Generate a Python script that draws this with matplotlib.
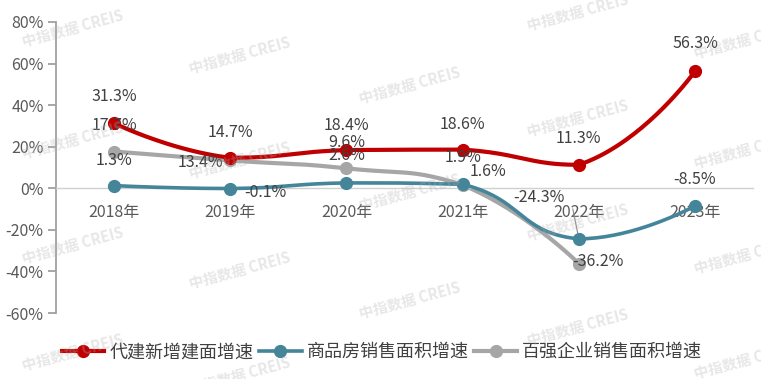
import numpy as np
import matplotlib
matplotlib.use('Agg')
import matplotlib.pyplot as plt

plt.rcParams['font.family'] = ['Noto Sans CJK SC', 'DejaVu Sans']
plt.rcParams['axes.unicode_minus'] = False

years = ['2018年', '2019年', '2020年', '2021年', '2022年', '2023年']
daijian = [31.3, 14.7, 18.4, 18.6, 11.3, 56.3]
shangpin = [1.3, -0.1, 2.6, 1.9, -24.3, -8.5]
baiqiang = [17.7, 13.4, 9.6, 1.6, -36.2]
names = ['代建新增建面增速', '商品房销售面积增速', '百强企业销售面积增速']
colors = ['#C00000', '#44859A', '#A6A6A6']

# label offsets in pixels (dx, dy)
offs_red = [(0, 27), (0, 25), (0, 25), (0, 25), (0, 26), (0, 28)]
offs_teal = [(0, 25), (35, -4), (0, 27), (0, 27), (-40, 41), (0, 26)]
offs_gray = [(0, 26), (-30, -2), (0, 26), (25, 13), (19, 2)]

fig = plt.figure(figsize=(7.61, 3.79), dpi=100)
ax = fig.add_axes([0.0736, 0.174, 0.916, 0.768])


def smooth(xs, ys, s=0.5, sx=116.0, sy=2.08):
    # echarts-like bezier smoothing, computed in pixel-ish space
    P = np.column_stack([np.asarray(xs, float) * sx, np.asarray(ys, float) * sy])
    n = len(P)
    cin = P.copy()
    cout = P.copy()
    for i in range(1, n - 1):
        v = P[i + 1] - P[i - 1]
        d0 = np.hypot(*(P[i] - P[i - 1]))
        d1 = np.hypot(*(P[i + 1] - P[i]))
        r = d0 / (d0 + d1)
        a = P[i] - v * s * r
        b = P[i] + v * s * (1 - r)
        a[1] = np.clip(a[1], min(P[i - 1, 1], P[i, 1]), max(P[i - 1, 1], P[i, 1]))
        b[1] = np.clip(b[1], min(P[i + 1, 1], P[i, 1]), max(P[i + 1, 1], P[i, 1]))
        cin[i] = a
        cout[i] = b
    t = np.linspace(0, 1, 40)[:, None]
    segs = []
    for i in range(n - 1):
        p0, p1, p2, p3 = P[i], cout[i], cin[i + 1], P[i + 1]
        seg = ((1 - t) ** 3) * p0 + 3 * ((1 - t) ** 2) * t * p1 + 3 * (1 - t) * t ** 2 * p2 + t ** 3 * p3
        segs.append(seg)
    c = np.vstack(segs)
    return c[:, 0] / sx, c[:, 1] / sy


series = [daijian, shangpin, baiqiang]
lws = [3.0, 2.6, 3.0]
for vals, col, lw, name, z in zip(series, colors, lws, names, [4, 3, 2]):
    x = np.arange(len(vals))
    cx, cy = smooth(x, vals)
    ax.plot(cx, cy, color=col, lw=lw, zorder=z, solid_capstyle='round')
    ax.plot(x, vals, 'o', color=col, ms=8.5, zorder=z)
    ax.plot([], [], '-o', color=col, lw=lw, ms=8.5, label=name)

for vals, offs in zip(series, [offs_red, offs_teal, offs_gray]):
    for i, (v, o) in enumerate(zip(vals, offs)):
        ax.annotate(f'{v}%', (i, v), xytext=o, textcoords='offset pixels',
                    ha='center', va='center', fontsize=11.5, color='#404040', zorder=6)

# leader line for -24.3%
ax.annotate('', (4, shangpin[4]), xytext=(-6, 30), textcoords='offset pixels',
            arrowprops=dict(arrowstyle='-', color='#888888', lw=0.8,
                            shrinkA=0, shrinkB=4), zorder=6)

ax.set_xlim(-0.5, 5.5)
ax.set_ylim(-60, 80)
ax.set_yticks(np.arange(-60, 81, 20))
ax.set_yticklabels([f'{v}%' for v in range(-60, 81, 20)])
ax.set_xticks(range(len(years)))
ax.set_xticklabels(years)

for s in ['top', 'right']:
    ax.spines[s].set_visible(False)
ax.spines['left'].set_color('#A0A0A0')
ax.spines['left'].set_linewidth(1.3)
ax.spines['bottom'].set_position(('data', 0))
ax.spines['bottom'].set_color('#D0D0D0')
ax.spines['bottom'].set_linewidth(1.0)
ax.tick_params(axis='y', length=6, width=1.3, color='#A0A0A0', labelsize=11.5,
               labelcolor='#595959', pad=3)
ax.tick_params(axis='x', length=0, labelsize=11.5, labelcolor='#595959', pad=11)

# watermark
wm = [(73, 28), (240, 55), (410, 85), (578, 12), (745, 40),
      (73, 140), (240, 160), (410, 192), (578, 118), (745, 150),
      (73, 245), (240, 270), (410, 300), (578, 222), (745, 255),
      (73, 352), (240, 375), (578, 327), (745, 360)]
for px, py in wm:
    fig.text(px / 761, 1 - py / 379, '中指数据 CREIS', fontsize=10.5, fontweight='bold',
             color='#B0B0B0', alpha=0.3, rotation=15, ha='center', va='center', zorder=10)

fig.legend(loc='center', bbox_to_anchor=(0.502, 0.071), ncol=3, frameon=False,
           fontsize=13, handlelength=2.35, handletextpad=0.3, columnspacing=0.3,
           labelcolor='#404040')

fig.savefig('out.png', dpi=100)
